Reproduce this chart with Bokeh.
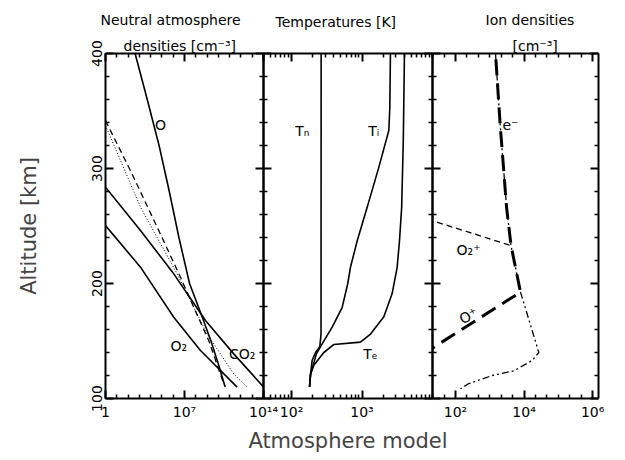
from bokeh.plotting import figure
from bokeh.models import Range1d, FixedTicker, LogAxis, LinearAxis, Label, Title
from bokeh.layouts import row
from bokeh.embed import file_html
from bokeh.resources import INLINE

# ---------------- data ----------------
# Panel 1: neutral atmosphere densities [cm^-3] vs altitude [km]
alt_O = [400, 360, 320, 280, 240, 200, 170, 150, 130, 110]
n_O = [4.2e2, 5.0e3, 5.6e4, 4.5e5, 3.2e6, 2.8e7, 4.0e8, 2.2e9, 1.0e10, 4.0e10]
alt_CO2 = [283.8, 246.1, 208.4, 167.8, 138.8, 109.9]
n_CO2 = [1.0, 1.26e3, 1.12e6, 7.2e8, 2.3e11, 1.05e14]
alt_O2 = [250.4, 214.2, 170.7, 141.7, 109.9]
n_O2 = [1.0, 1.26e3, 1.12e6, 2.6e8, 4.6e11]
alt_dashed = [341.7, 298.3, 249.0, 208.4, 179.4, 150.4, 112.8]
n_dashed = [1.0, 1.6e2, 3.8e4, 3.2e6, 6.6e7, 1.4e9, 3.0e10]
alt_dotted = [337.4, 266.4, 208.4, 156.2, 121.4, 109.9]
n_dotted = [1.0, 1.26e3, 2.2e6, 1.0e9, 2.3e11, 3.5e12]

# Panel 2: temperatures [K]
alt_Tn = [400, 156, 145, 140, 133, 121, 110]
T_n = [263, 262, 252, 219, 196, 186, 180]
alt_Ti = [400, 353, 333, 301, 266, 237, 214, 200, 179, 162, 147.5, 139, 121, 110]
T_i = [2530, 2480, 2400, 1730, 1180, 853, 685, 628, 522, 377, 272, 226, 186, 180]
alt_Te = [400, 324, 266, 237, 214, 191, 171, 156, 149, 147, 140, 129, 121, 110]
T_e = [4000, 3850, 3650, 3400, 3150, 2670, 2040, 1320, 950, 400, 287, 207, 186, 180]

# Panel 3: ion densities [cm^-3]
alt_e = [400, 339, 266, 233, 192.5, 140, 133, 124, 120, 113, 108.5]
n_e = [1470, 2000, 3090, 4170, 7870, 26900, 17200, 5020, 1175, 245, 140]
alt_Op = [137.6, 192.5, 233, 266, 339, 400]
n_Op = [10, 7870, 4170, 3090, 2000, 1470]
alt_O2p = [253.3, 233]
n_O2p = [29, 4170]

# axis ticks / labels
y_major = [100, 200, 300, 400]
y_minor = [120, 140, 160, 180, 220, 240, 260, 280, 320, 340, 360, 380]
y_labels = {100: "100", 200: "200", 300: "300", 400: "400"}
x1_major = [1, 1e7, 1e14]
x1_minor = [1e1, 1e2, 1e3, 1e4, 1e5, 1e6, 1e8, 1e9, 1e10, 1e11, 1e12, 1e13]
x1_labels = {1: "1", 1e7: "10\u2077", 1e14: "10\u00b9\u2074"}
x2_major = [100, 1000]
x2_minor = [40, 50, 60, 70, 80, 90, 200, 300, 400, 500, 600, 700, 800, 900,
            2000, 3000, 4000, 5000, 6000, 7000, 8000, 9000, 10000]
x2_labels = {100: "10\u00b2", 1000: "10\u00b3"}
x3_major = [1e2, 1e4, 1e6]
x3_minor = [10 ** (k / 3) for k in range(4, 19) if k % 6 != 0]
x3_labels = {100: "10\u00b2", 10000: "10\u2074", 1e6: "10\u2076"}

FONT = "DejaVu Sans"
SIDE = 25  # overlap border between adjacent panels


def style_axis(ax, major, minor, labels=None, show=True):
    ax.ticker = FixedTicker(ticks=major, minor_ticks=minor)
    ax.axis_line_width = 2
    ax.axis_line_color = "black"
    ax.major_tick_in = 8
    ax.major_tick_out = 0
    ax.minor_tick_in = 4
    ax.minor_tick_out = 0
    ax.major_tick_line_width = 2
    ax.minor_tick_line_width = 1.5
    ax.major_tick_line_color = "black"
    ax.minor_tick_line_color = "black"
    ax.major_label_text_font = FONT
    if show:
        ax.major_label_text_color = "black"
        ax.major_label_text_font_size = "14px"
        ax.major_label_standoff = 5
        if labels is not None:
            ax.major_label_overrides = labels
    else:
        ax.major_label_text_color = None
        ax.major_label_text_font_size = "1px"
        ax.major_label_standoff = 0


def make_fig(xr, fw, bl, br):
    p = figure(x_axis_type="log", x_range=xr, y_range=Range1d(100, 400),
               frame_width=fw, frame_height=345, output_backend="svg",
               toolbar_location=None, min_border_left=bl, min_border_right=br,
               min_border_top=53, min_border_bottom=55, title=None)
    p.grid.visible = False
    p.outline_line_color = None
    p.background_fill_color = None
    p.border_fill_color = None
    return p


def add_label(p, x, y, text, size="14px", angle=0.0):
    p.add_layout(Label(x=x, y=y, text=text, text_align="center",
                       text_baseline="middle", text_font=FONT,
                       text_font_size=size, text_color="black", angle=angle))


def add_title(p, text, offset, standoff):
    p.add_layout(Title(text=text, align="left", offset=offset, standoff=standoff,
                       text_font=FONT, text_font_size="14px",
                       text_font_style="normal", text_color="black"), "above")


# ---------------- panel 1 ----------------
p1 = make_fig(Range1d(1, 1e14), 158, 105, SIDE)
style_axis(p1.xaxis[0], x1_major, x1_minor, x1_labels)
style_axis(p1.yaxis[0], y_major, y_minor, y_labels)
p1.yaxis[0].major_label_orientation = "vertical"
p1.yaxis[0].major_label_standoff = 4
p1.yaxis[0].axis_label = "Altitude [km]"
p1.yaxis[0].axis_label_text_font = FONT
p1.yaxis[0].axis_label_text_font_size = "21px"
p1.yaxis[0].axis_label_text_font_style = "normal"
p1.yaxis[0].axis_label_standoff = 48
top1 = LogAxis()
style_axis(top1, x1_major, x1_minor, show=False)
p1.add_layout(top1, "above")
add_title(p1, "densities [cm\u207b\u00b3]", 18, -1)
add_title(p1, "Neutral atmosphere", -5, 18)
right1 = LinearAxis()
style_axis(right1, y_major, y_minor, show=False)
p1.add_layout(right1, "right")

p1.line(n_O, alt_O, line_color="black", line_width=1.6)
p1.line(n_CO2, alt_CO2, line_color="black", line_width=1.6)
p1.line(n_O2, alt_O2, line_color="black", line_width=1.6)
p1.line(n_dashed, alt_dashed, line_color="black", line_width=1.3, line_dash="6 4")
p1.line(n_dotted, alt_dotted, line_color="black", line_width=1.0, line_dash="1 2")
add_label(p1, 7.4e4, 337.4, "O")
add_label(p1, 3.1e6, 146, "O\u2082")
add_label(p1, 1.3e12, 138.9, "CO\u2082")

# ---------------- panel 2 ----------------
p2 = make_fig(Range1d(40, 1e4), 169, SIDE, SIDE)
p2.styles = {"margin-left": f"-{2 * SIDE}px"}
style_axis(p2.xaxis[0], x2_major, x2_minor, x2_labels)
p2.xaxis[0].axis_label = "Atmosphere model"
p2.xaxis[0].axis_label_text_font = FONT
p2.xaxis[0].axis_label_text_font_size = "21px"
p2.xaxis[0].axis_label_text_font_style = "normal"
p2.xaxis[0].axis_label_standoff = 6
style_axis(p2.yaxis[0], y_major, y_minor, show=False)
top2 = LogAxis()
style_axis(top2, x2_major, x2_minor, show=False)
p2.add_layout(top2, "above")
add_title(p2, "Temperatures [K]\n", 12, 16)
right2 = LinearAxis()
style_axis(right2, y_major, y_minor, show=False)
p2.add_layout(right2, "right")

p2.line(T_n, alt_Tn, line_color="black", line_width=1.6)
p2.line(T_i, alt_Ti, line_color="black", line_width=1.6)
p2.line(T_e, alt_Te, line_color="black", line_width=1.6)
add_label(p2, 142, 333, "T\u2099")
add_label(p2, 1469, 333, "T\u1d62")
add_label(p2, 1318, 138.9, "T\u2091")

# ---------------- panel 3 ----------------
p3 = make_fig(Range1d(10 ** 1.33, 10 ** 6.17), 166, SIDE, 15)
p3.styles = {"margin-left": f"-{2 * SIDE}px"}
style_axis(p3.xaxis[0], x3_major, x3_minor, x3_labels)
style_axis(p3.yaxis[0], y_major, y_minor, show=False)
top3 = LogAxis()
style_axis(top3, x3_major, x3_minor, show=False)
p3.add_layout(top3, "above")
add_title(p3, "[cm\u207b\u00b3]", 80, -1)
add_title(p3, "Ion densities", 53, 18)
right3 = LinearAxis()
style_axis(right3, y_major, y_minor, show=False)
p3.add_layout(right3, "right")

p3.line(n_e, alt_e, line_color="black", line_width=1.3, line_dash="7 3 2 3 2 3")
p3.line(n_Op, alt_Op, line_color="black", line_width=3, line_dash="16 8")
p3.line(n_O2p, alt_O2p, line_color="black", line_width=1.3, line_dash="6 4")
add_label(p3, 4020, 337.4, "e\u207b")
add_label(p3, 240, 228.7, "O\u2082\u207a")
add_label(p3, 240, 172, "O\u207a", angle=0.5)

layout = row(p1, p2, p3)

open("out.html", "w").write(file_html(layout, INLINE))
